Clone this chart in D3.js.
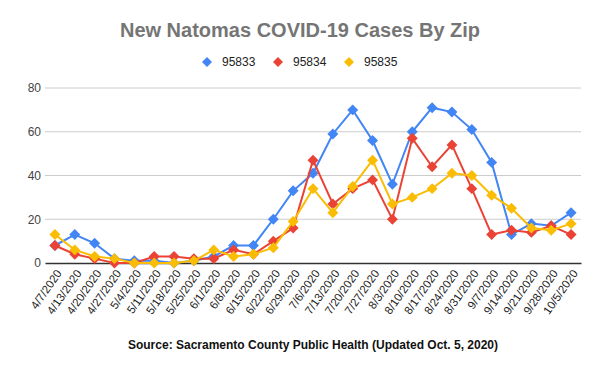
<!DOCTYPE html>
<html>
<head>
<meta charset="utf-8">
<script src="https://cdn.jsdelivr.net/npm/d3@7"></script>
<style>
  body { margin: 0; background: #fff; }
  text { font-family: Arial, "Liberation Sans", sans-serif; }
</style>
</head>
<body>
<script>
// Weekly dates
const dates = ["4/7/2020", "4/13/2020", "4/20/2020", "4/27/2020", "5/4/2020", "5/11/2020",
  "5/18/2020", "5/25/2020", "6/1/2020", "6/8/2020", "6/15/2020", "6/22/2020", "6/29/2020",
  "7/6/2020", "7/13/2020", "7/20/2020", "7/27/2020", "8/3/2020", "8/10/2020", "8/17/2020",
  "8/24/2020", "8/31/2020", "9/7/2020", "9/14/2020", "9/21/2020", "9/28/2020", "10/5/2020"];

const zip95833 = [8, 13, 9, 2, 1, 1, 0, 1, 3, 8, 8, 20, 33, 41, 59, 70, 56, 36, 60, 71, 69, 61, 46, 13, 18, 17, 23];
const zip95834 = [8, 4, 2, 0, 0, 3, 3, 2, 2, 6, 4, 10, 16, 47, 27, 34, 38, 20, 57, 44, 54, 34, 13, 15, 14, 17, 13];
const zip95835 = [13, 6, 3, 2, 0, 0, 0, 1, 6, 3, 4, 7, 19, 34, 23, 35, 47, 27, 30, 34, 41, 40, 31, 25, 16, 15, 18];

const seriesNames = ["95833", "95834", "95835"];
const seriesColors = ["#4285f4", "#ea4335", "#fbbc04"];
const yTicks = [0, 20, 40, 60, 80];

const width = 600, height = 371;
const margin = { top: 88, right: 19, bottom: 108, left: 45 };
const font = "Arial, 'Liberation Sans', sans-serif";

const svg = d3.select("body").append("svg")
    .attr("width", width)
    .attr("height", height);

const x = d3.scaleBand()
    .domain(dates)
    .range([margin.left, width - margin.right]);

const y = d3.scaleLinear()
    .domain([0, 80])
    .range([height - margin.bottom, margin.top]);

// Title
svg.append("text")
    .attr("x", 300)
    .attr("y", 37)
    .attr("text-anchor", "middle")
    .attr("font-size", 20)
    .attr("font-weight", "bold")
    .attr("fill", "#757575")
    .text("New Natomas COVID-19 Cases By Zip");

// Legend
const legendX = [207, 278, 349];
const legend = svg.selectAll(".legend")
    .data(seriesNames)
    .enter()
    .append("g")
    .attr("class", "legend")
    .attr("transform", (d, i) => `translate(${legendX[i]},62)`);

legend.append("path")
    .attr("d", d3.symbol(d3.symbolSquare, 50))
    .attr("transform", "rotate(45)")
    .attr("fill", (d, i) => seriesColors[i]);

legend.append("text")
    .attr("x", 15)
    .attr("dy", "0.35em")
    .attr("font-size", 12)
    .attr("fill", "#222")
    .text(d => d);

// Gridlines
svg.append("g")
    .selectAll("line")
    .data(yTicks.filter(t => t > 0))
    .enter()
    .append("line")
    .attr("x1", margin.left)
    .attr("x2", width - margin.right)
    .attr("y1", d => y(d))
    .attr("y2", d => y(d))
    .attr("stroke", "#cccccc");

// Y axis labels
const yAxis = svg.append("g")
    .attr("transform", `translate(${margin.left - 4},0)`)
    .call(d3.axisLeft(y).tickValues(yTicks).tickSize(0).tickPadding(0));
yAxis.select(".domain").remove();
yAxis.selectAll("text")
    .attr("font-size", 12)
    .attr("font-family", font)
    .attr("fill", "#444");

// X axis
const xAxis = svg.append("g")
    .attr("transform", `translate(0,${y(0)})`)
    .call(d3.axisBottom(x).tickSize(0).tickPadding(0));
xAxis.select(".domain")
    .attr("stroke", "#333")
    .attr("stroke-width", 1.3);
xAxis.selectAll("text")
    .attr("font-size", 11.5)
    .attr("font-family", font)
    .attr("fill", "#222")
    .attr("text-anchor", "end")
    .attr("dy", "0.35em")
    .attr("transform", "translate(4,8) rotate(-55)");

// Series
const allSeries = [zip95833, zip95834, zip95835];
const line = d3.line()
    .x((d, i) => x(dates[i]) + x.bandwidth() / 2)
    .y(d => y(d));

allSeries.forEach((vals, s) => {
  const g = svg.append("g");
  g.append("path")
      .datum(vals)
      .attr("fill", "none")
      .attr("stroke", seriesColors[s])
      .attr("stroke-width", 2)
      .attr("d", line);
  g.selectAll("path.pt")
      .data(vals)
      .enter()
      .append("path")
      .attr("class", "pt")
      .attr("d", d3.symbol(d3.symbolSquare, 60))
      .attr("transform", (d, i) =>
        `translate(${x(dates[i]) + x.bandwidth() / 2},${y(d)}) rotate(45)`)
      .attr("fill", seriesColors[s]);
});

// Source note
svg.append("text")
    .attr("x", 313)
    .attr("y", 349)
    .attr("text-anchor", "middle")
    .attr("font-size", 12)
    .attr("font-weight", "bold")
    .attr("fill", "#111")
    .text("Source: Sacramento County Public Health (Updated Oct. 5, 2020)");
</script>
</body>
</html>
